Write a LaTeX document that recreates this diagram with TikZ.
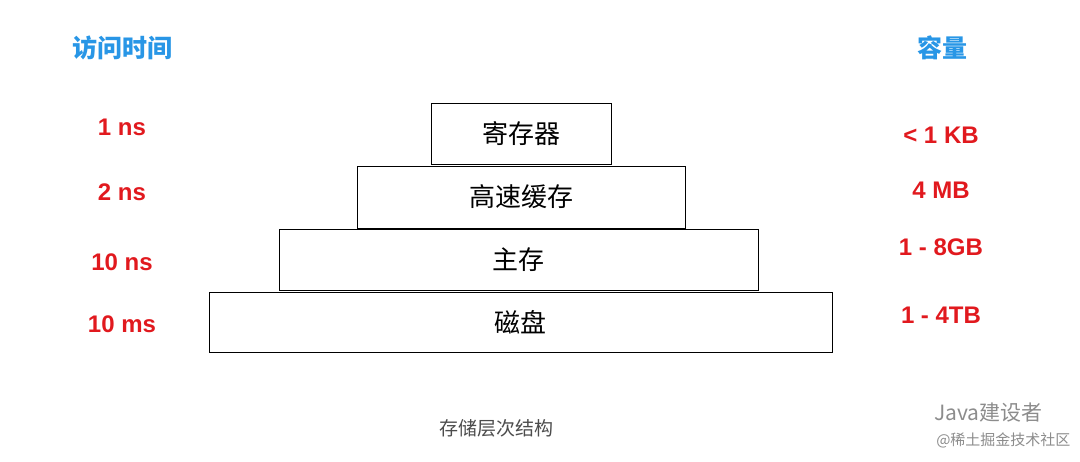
\documentclass[tikz,border=0pt]{standalone}
\usepackage{fontspec}
\setmainfont{Liberation Sans}
\newfontfamily\cjk{Noto Sans CJK SC}
\usepackage{xcolor}
\definecolor{time_red}{RGB}{225,25,30}
\definecolor{head_blue}{RGB}{40,150,230}
\colorlet{note_gray}{black!70}

\begin{document}
\begin{tikzpicture}[
    x=1pt, y=-1pt,
    level/.style={draw=black, line width=1pt, font=\cjk\fontsize{26}{26}\selectfont, inner sep=0pt},
    head/.style={color=head_blue, font=\cjk\bfseries\fontsize{25}{25}\selectfont},
    value/.style={color=time_red, font=\bfseries\fontsize{24}{24}\selectfont},
    note/.style={color=note_gray, font=\cjk\fontsize{19}{19}\selectfont},
  ]
  \useasboundingbox (0,0) rectangle (1080,461);

  %%%%%%%%%% Levels %%%%%%%%%%
  \foreach \name/\xa/\ya/\xb/\yb/\labeltext in {
    reg/431/103/611/164/寄存器,
    cache/357/166/685/228/高速缓存,
    mem/279/229/758/290/主存,
    disk/209/292/832/352/磁盘
  } {
    \node[level, minimum width={\xb-\xa}, minimum height={\yb-\ya}] (\name) at ({(\xa+\xb)/2},{(\ya+\yb)/2}) {\labeltext};
  }

  %%%%%%%%%% Headers %%%%%%%%%%
  \node[head] (time-head) at (122,48) {访问时间};
  \node[head] (size-head) at (942,48) {容量};

  %%%%%%%%%% Values %%%%%%%%%%
  \foreach \name/\ypos/\labeltext in {
    t-reg/127/1 ns, t-cache/192/2 ns, t-mem/262/10 ns, t-disk/324/10 ms
  } {
    \node[value] (\name) at (122,\ypos) {\labeltext};
  }
  \foreach \name/\ypos/\labeltext in {
    s-reg/135/< 1 KB, s-cache/190/4 MB, s-mem/247/1 - 8GB, s-disk/315/1 - 4TB
  } {
    \node[value] (\name) at (941,\ypos) {\labeltext};
  }

  %%%%%%%%%% Caption %%%%%%%%%%
  \node[note] (caption) at (496,428) {存储层次结构};
  \node[color=black!45, font=\cjk\fontsize{21}{21}\selectfont, anchor=east] (mark) at (1046,413) {Java建设者};
  \node[color=black!45, font=\cjk\fontsize{15}{15}\selectfont, anchor=east] (site) at (1074,440) {@稀土掘金技术社区};
\end{tikzpicture}
\end{document}
